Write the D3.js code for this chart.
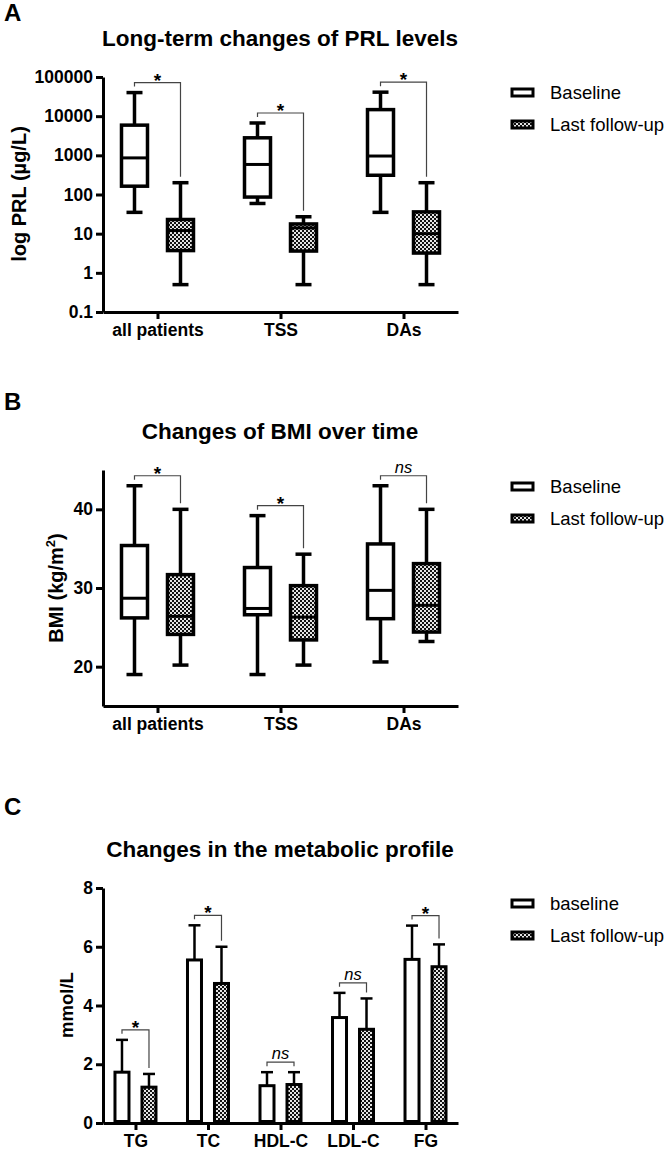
<!DOCTYPE html>
<html>
<head>
<meta charset="utf-8">
<script src="https://cdn.jsdelivr.net/npm/d3@7"></script>
<style>
  body { margin: 0; background: white; }
  text { font-family: "Liberation Sans", Arial, sans-serif; }
</style>
</head>
<body>
<div id="figure"></div>
<script>
// Data
// box values are [min, q1, median, q3, max]
const groups = ["all patients", "TSS", "DAs"];

const prlBaseline = [[35, 163, 860, 5900, 40000], [59, 86, 585, 2800, 6700], [35, 310, 960, 14700, 41000]];
const prlFollowup = [[0.5, 3.7, 12, 23, 200], [0.5, 3.6, 14, 17.7, 27], [0.5, 3.2, 10, 36, 200]];
const prlSig = ["*", "*", "*"];
const prlTicks = [0.1, 1, 10, 100, 1000, 10000, 100000];

const bmiBaseline = [[19.0, 26.2, 28.7, 35.4, 43.0], [19.0, 26.6, 27.4, 32.6, 39.2], [20.6, 26.1, 29.7, 35.6, 43.0]];
const bmiFollowup = [[20.2, 24.1, 26.4, 31.7, 40.0], [20.2, 23.4, 26.3, 30.3, 34.3], [23.2, 24.4, 27.8, 33.1, 40.0]];
const bmiSig = ["*", "*", "ns"];
const bmiTicks = [20, 30, 40];

const metabolites = ["TG", "TC", "HDL-C", "LDL-C", "FG"];
const metBaseMean = [1.73, 5.55, 1.27, 3.59, 5.57];
const metBaseSD = [1.10, 1.18, 0.46, 0.84, 1.15];
const metFollowMean = [1.22, 4.75, 1.31, 3.19, 5.32];
const metFollowSD = [0.45, 1.25, 0.42, 1.05, 0.76];
const metSig = ["*", "*", "ns", "ns", "*"];
const metTicks = [0, 2, 4, 6, 8];

let width = 669, height = 1151;

let svg = d3.select('#figure')
            .append('svg')
            .attr('width', width)
            .attr('height', height)
            .style('background', 'white');

// checker pattern for the follow-up boxes
const pat = svg.append('defs')
               .append('pattern')
               .attr('id', 'checker')
               .attr('patternUnits', 'userSpaceOnUse')
               .attr('width', 4)
               .attr('height', 4);
pat.append('rect').attr('width', 4).attr('height', 4).attr('fill', '#e4e4e4');
pat.append('rect').attr('width', 2).attr('height', 2).attr('fill', '#111');
pat.append('rect').attr('x', 2).attr('y', 2).attr('width', 2).attr('height', 2).attr('fill', '#111');

const plotLeft = 103, plotRight = 458;

function styleAxis(g) {
  g.select('.domain').attr('stroke-width', 3);
  g.selectAll('.tick line').attr('stroke-width', 3);
  g.selectAll('.tick text')
   .attr('font-size', '17.5px')
   .attr('font-weight', 'bold')
   .attr('fill', 'black');
}

function panelHeader(letter, letterY, title, titleY) {
  svg.append('text')
     .attr('x', 4)
     .attr('y', letterY)
     .attr('font-size', '24px')
     .attr('font-weight', 'bold')
     .text(letter);

  svg.append('text')
     .attr('x', 280)
     .attr('y', titleY)
     .attr('text-anchor', 'middle')
     .attr('font-size', '22.5px')
     .attr('font-weight', 'bold')
     .text(title);
}

function legend(top, firstLabel) {
  const lg = svg.append('g').attr('transform', `translate(512, ${top})`);
  [firstLabel, 'Last follow-up'].forEach((name, i) => {
    lg.append('rect')
      .attr('x', 0)
      .attr('y', i * 32)
      .attr('width', 21)
      .attr('height', 7)
      .attr('fill', i ? 'url(#checker)' : 'white')
      .attr('stroke', 'black')
      .attr('stroke-width', 3);
    lg.append('text')
      .attr('x', 38)
      .attr('y', i * 32 + 10)
      .attr('font-size', '18.5px')
      .text(name);
  });
}

function bracket(x1, x2, yLeft, yRight, label) {
  const top = Math.min(yLeft, yRight) - 10;
  svg.append('path')
     .attr('d', `M${x1},${yLeft - 6}V${top}H${x2}V${yRight - 6}`)
     .attr('fill', 'none')
     .attr('stroke', '#444')
     .attr('stroke-width', 1.2);
  svg.append('text')
     .attr('x', (x1 + x2) / 2)
     .attr('y', label === 'ns' ? top - 3 : top + 4)
     .attr('text-anchor', 'middle')
     .attr('font-size', label === 'ns' ? '16.5px' : '19px')
     .attr('font-style', label === 'ns' ? 'italic' : 'normal')
     .attr('font-weight', label === 'ns' ? 'normal' : 'bold')
     .text(label);
}

// Box plot panel (A and B)
function boxPanel(opts) {
  const x = d3.scalePoint()
              .domain(groups)
              .range([plotLeft, plotRight])
              .padding(0.443);

  const y = opts.y;

  svg.append('g')
     .attr('transform', `translate(0, ${opts.bottom})`)
     .call(d3.axisBottom(x).tickSize(7).tickSizeOuter(0).tickPadding(5))
     .call(styleAxis);

  svg.append('g')
     .attr('transform', `translate(${plotLeft}, 0)`)
     .call(d3.axisLeft(y).tickValues(opts.ticks).tickFormat(d => String(d))
             .tickSize(7).tickSizeOuter(0).tickPadding(3))
     .call(styleAxis);

  const series = [opts.base, opts.follow];
  groups.forEach((grp, i) => {
    const centers = [];
    series.forEach((vals, s) => {
      const d = vals[i];
      const cx = x(grp) + (s ? 23 : -23);
      centers.push(cx);
      svg.append('line')
         .attr('x1', cx).attr('x2', cx)
         .attr('y1', y(d[0])).attr('y2', y(d[4]))
         .attr('stroke', 'black').attr('stroke-width', 3.5);
      [d[0], d[4]].forEach(v => {
        svg.append('line')
           .attr('x1', cx - 8).attr('x2', cx + 8)
           .attr('y1', y(v)).attr('y2', y(v))
           .attr('stroke', 'black').attr('stroke-width', 3.5);
      });
      svg.append('rect')
         .attr('x', cx - 13)
         .attr('y', y(d[3]))
         .attr('width', 26)
         .attr('height', y(d[1]) - y(d[3]))
         .attr('fill', s ? 'url(#checker)' : 'white')
         .attr('stroke', 'black')
         .attr('stroke-width', 3.5);
      svg.append('line')
         .attr('x1', cx - 13).attr('x2', cx + 13)
         .attr('y1', y(d[2])).attr('y2', y(d[2]))
         .attr('stroke', 'black').attr('stroke-width', 3);
    });
    bracket(centers[0], centers[1], y(opts.base[i][4]), y(opts.follow[i][4]), opts.sig[i]);
  });

  svg.append('text')
     .attr('transform', 'rotate(-90)')
     .attr('x', -opts.labelY)
     .attr('y', opts.labelX)
     .attr('text-anchor', 'middle')
     .attr('font-size', '20px')
     .attr('font-weight', 'bold')
     .call(t => opts.label(t));
}

// Panel A
panelHeader('A', 21, 'Long-term changes of PRL levels', 46);
boxPanel({
  y: d3.scaleLog().domain([0.1, 100000]).range([312, 77]),
  bottom: 312,
  ticks: prlTicks,
  base: prlBaseline,
  follow: prlFollowup,
  sig: prlSig,
  labelX: 26,
  labelY: 194,
  label: t => t.text('log PRL (µg/L)')
});
legend(89, 'Baseline');

// Panel B
panelHeader('B', 410, 'Changes of BMI over time', 439);
boxPanel({
  y: d3.scaleLinear().domain([15, 45]).range([706, 470]),
  bottom: 706,
  ticks: bmiTicks,
  base: bmiBaseline,
  follow: bmiFollowup,
  sig: bmiSig,
  labelX: 63,
  labelY: 588,
  label: t => {
    t.append('tspan').text('BMI (kg/m');
    t.append('tspan').attr('dy', -8).attr('font-size', '13px').text('2');
    t.append('tspan').attr('dy', 8).text(')');
  }
});
legend(483, 'Baseline');

// Panel C: bar chart with upper SD
panelHeader('C', 815, 'Changes in the metabolic profile', 857);

const xC = d3.scalePoint()
             .domain(metabolites)
             .range([plotLeft, plotRight])
             .padding(0.448);

const yC = d3.scaleLinear()
             .domain([0, 8])
             .range([1123, 888]);

svg.append('g')
   .attr('transform', 'translate(0, 1123)')
   .call(d3.axisBottom(xC).tickSize(7).tickSizeOuter(0).tickPadding(5))
   .call(styleAxis);

svg.append('g')
   .attr('transform', `translate(${plotLeft}, 0)`)
   .call(d3.axisLeft(yC).tickValues(metTicks).tickSize(7).tickSizeOuter(0).tickPadding(3))
   .call(styleAxis);

metabolites.forEach((m, i) => {
  const bars = [[metBaseMean[i], metBaseSD[i]], [metFollowMean[i], metFollowSD[i]]];
  const centers = [], tops = [];
  bars.forEach(([mean, sd], s) => {
    const cx = xC(m) + (s ? 13.5 : -13.5);
    centers.push(cx);
    tops.push(yC(mean + sd));
    svg.append('line')
       .attr('x1', cx).attr('x2', cx)
       .attr('y1', yC(mean)).attr('y2', yC(mean + sd))
       .attr('stroke', 'black').attr('stroke-width', 2.5);
    svg.append('line')
       .attr('x1', cx - 6).attr('x2', cx + 6)
       .attr('y1', yC(mean + sd)).attr('y2', yC(mean + sd))
       .attr('stroke', 'black').attr('stroke-width', 2.5);
    svg.append('rect')
       .attr('x', cx - 7)
       .attr('y', yC(mean))
       .attr('width', 14)
       .attr('height', yC(0) - yC(mean) - 1.5)
       .attr('fill', s ? 'url(#checker)' : 'white')
       .attr('stroke', 'black')
       .attr('stroke-width', 3);
  });
  bracket(centers[0], centers[1], tops[0], tops[1], metSig[i]);
});

svg.append('text')
   .attr('transform', 'rotate(-90)')
   .attr('x', -1005)
   .attr('y', 73)
   .attr('text-anchor', 'middle')
   .attr('font-size', '18.5px')
   .attr('font-weight', 'bold')
   .text('mmol/L');

legend(900, 'baseline');
</script>
</body>
</html>
